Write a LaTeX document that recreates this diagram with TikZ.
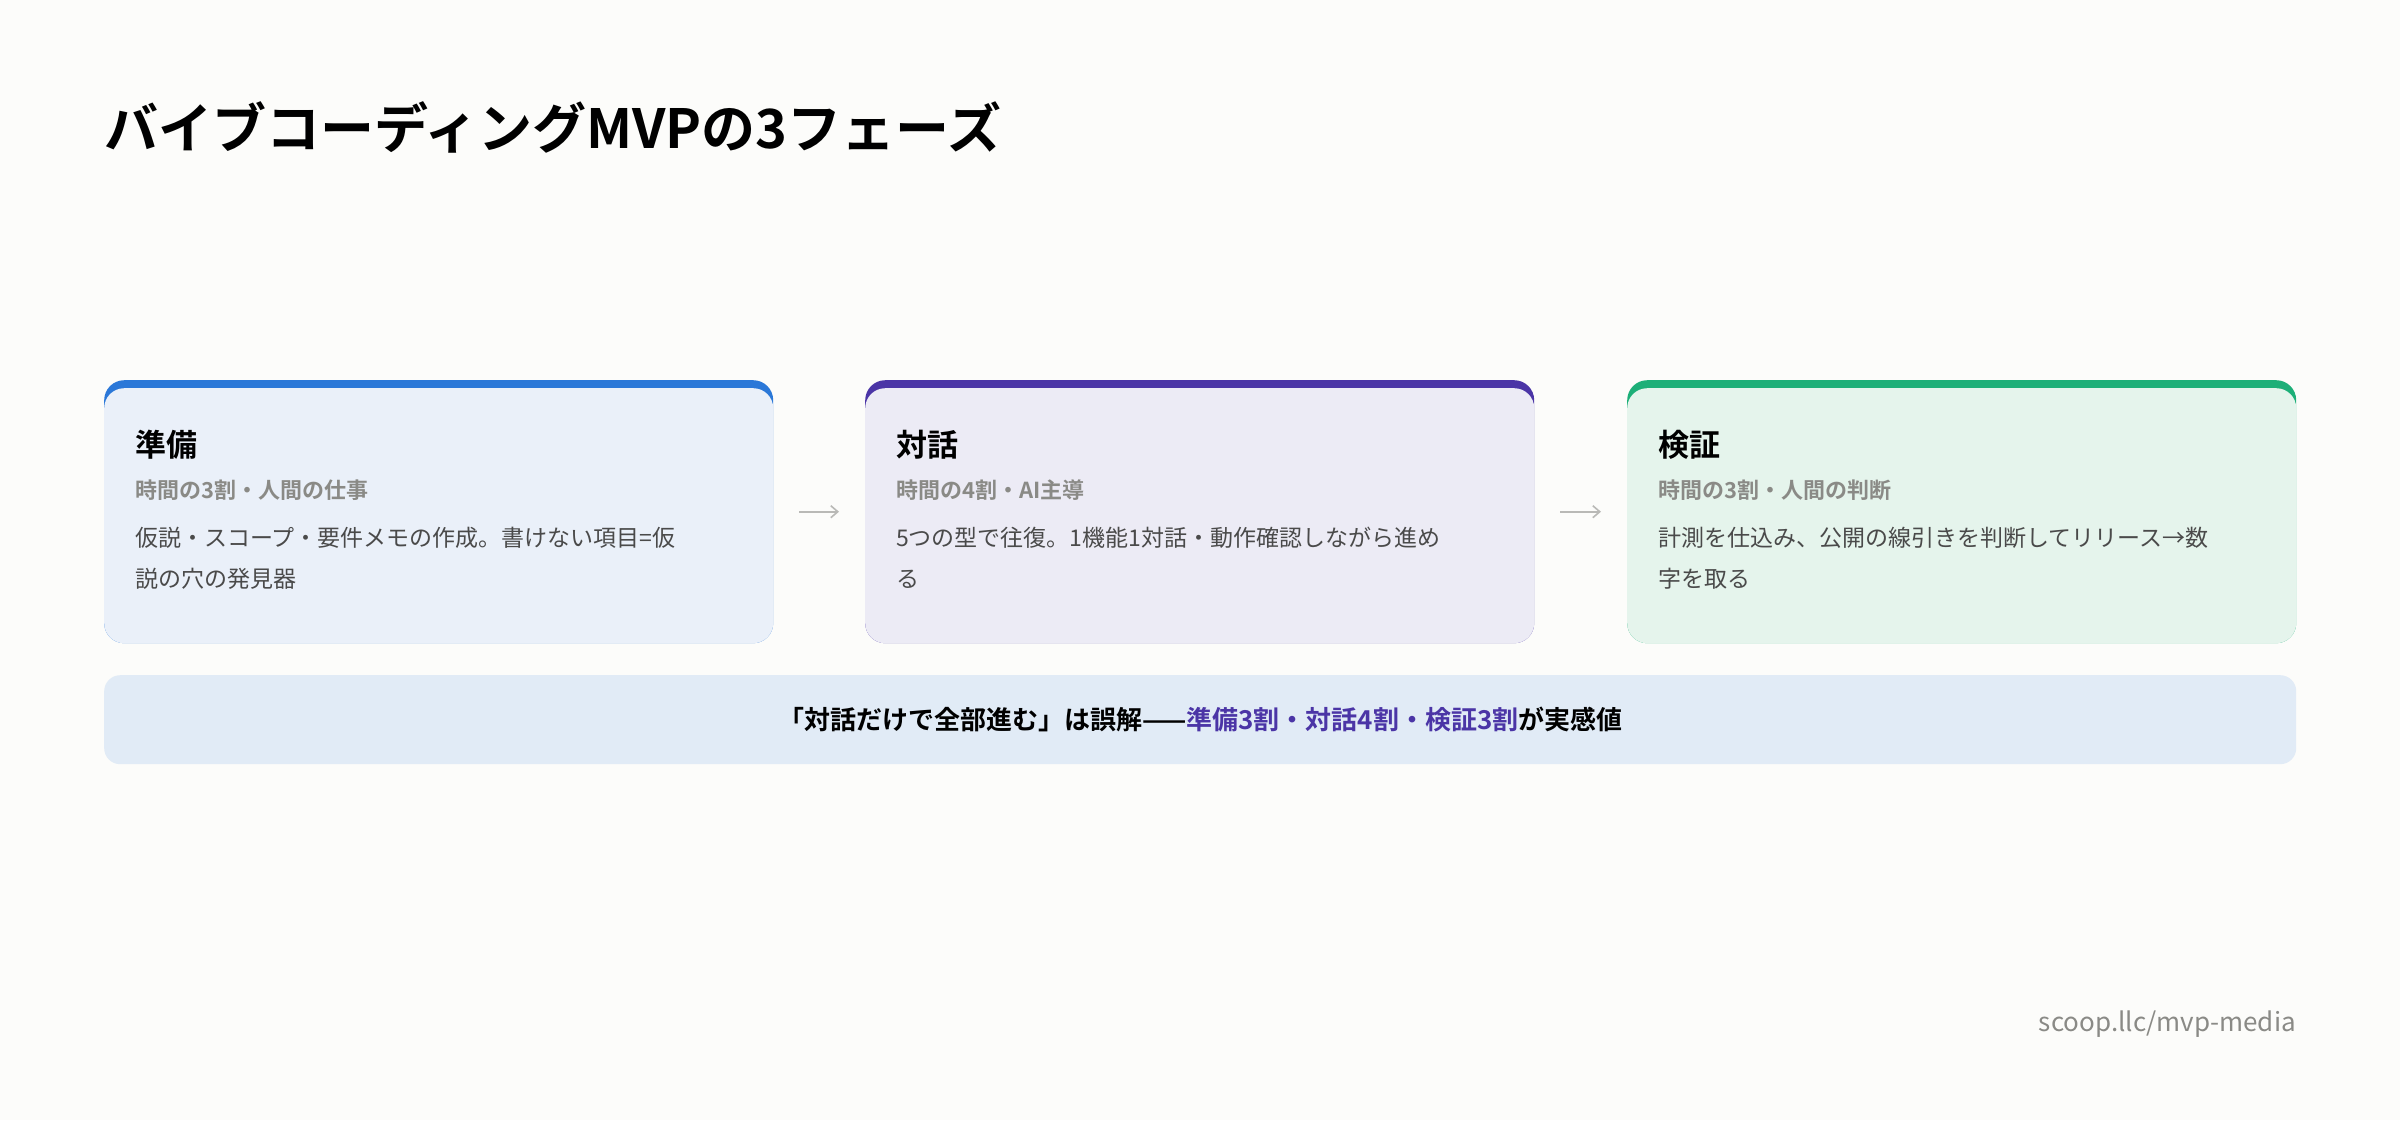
\documentclass[tikz,border=0pt]{standalone}
\usepackage{fontspec}
\setmainfont{Noto Sans CJK JP}
\newfontfamily\jpb{Noto Sans CJK JP Bold}
\usetikzlibrary{arrows.meta}
\definecolor{bg}{HTML}{FCFCFA}
\definecolor{cblue}{HTML}{2B78D8}\definecolor{bblue}{HTML}{EAF0F9}
\definecolor{cpur}{HTML}{4B35A6}\definecolor{bpur}{HTML}{ECEBF5}
\definecolor{cgrn}{HTML}{1DAF78}\definecolor{bgrn}{HTML}{E5F4EC}
\definecolor{band}{HTML}{E1EBF6}
\definecolor{sub}{HTML}{8A8A86}
\definecolor{body}{HTML}{4A4A4A}
\begin{document}
\begin{tikzpicture}[x=1pt,y=-1pt,
  bar/.style={rounded corners=20pt,minimum width=669pt,minimum height=263pt,inner sep=0pt,anchor=north west},
  card/.style={rounded corners=20pt,minimum width=669pt,minimum height=255pt,inner sep=0pt,anchor=north west},
  head/.style={anchor=base west,inner sep=0pt,font=\jpb\fontsize{31}{36}\selectfont},
  subt/.style={anchor=base west,inner sep=0pt,text=sub,font=\jpb\fontsize{22}{26}\selectfont},
  bodyt/.style={anchor=north west,inner sep=0pt,text=body,align=left,font=\fontsize{23}{41}\selectfont},
  arr/.style={-{Straight Barb[length=7pt,width=12pt]},draw=sub!60,line width=1.6pt,shorten <=26pt,shorten >=26pt}]
\fill[bg] (0,0) rectangle (2400,1120);
\useasboundingbox (0,0) rectangle (2400,1120);
\node[anchor=base west,inner sep=0pt,font=\jpb\fontsize{54}{60}\selectfont] (title) at (104,148) {バイブコーディングMVPの3フェーズ};
% cards
\node[bar,fill=cblue] (b1) at (104,380) {};
\node[card,fill=bblue] (c1) at (104,388) {};
\node[bar,fill=cpur] (b2) at (865,380) {};
\node[card,fill=bpur] (c2) at (865,388) {};
\node[bar,fill=cgrn] (b3) at (1627,380) {};
\node[card,fill=bgrn] (c3) at (1627,388) {};
\node[head] (h1) at (135,456) {準備};
\node[subt] (s1) at (135,498) {時間の3割・人間の仕事};
\node[bodyt] (t1) at (135,527) {仮説・スコープ・要件メモの作成。書けない項目=仮\\説の穴の発見器};
\node[head] (h2) at (896,456) {対話};
\node[subt] (s2) at (896,498) {時間の4割・AI主導};
\node[bodyt] (t2) at (896,527) {5つの型で往復。1機能1対話・動作確認しながら進め\\る};
\node[head] (h3) at (1658,456) {検証};
\node[subt] (s3) at (1658,498) {時間の3割・人間の判断};
\node[bodyt] (t3) at (1658,527) {計測を仕込み、公開の線引きを判断してリリース→数\\字を取る};
\draw[arr] (b1.east) -- (b2.west);
\draw[arr] (b2.east) -- (b3.west);
% band
\node[fill=band,rounded corners=16pt,minimum width=2192pt,minimum height=89pt,inner sep=0pt,anchor=north west] (band) at (104,675) {};
\node[inner sep=0pt,font=\jpb\fontsize{26}{30}\selectfont] (bt) at (band.center) {「対話だけで全部進む」は誤解——\textcolor{cpur}{準備3割・対話4割・検証3割}が実感値};
\node[anchor=base east,inner sep=0pt,text=sub,font=\fontsize{26}{30}\selectfont] (foot) at (2296,1031) {scoop.llc/mvp-media};
\end{tikzpicture}
\end{document}
